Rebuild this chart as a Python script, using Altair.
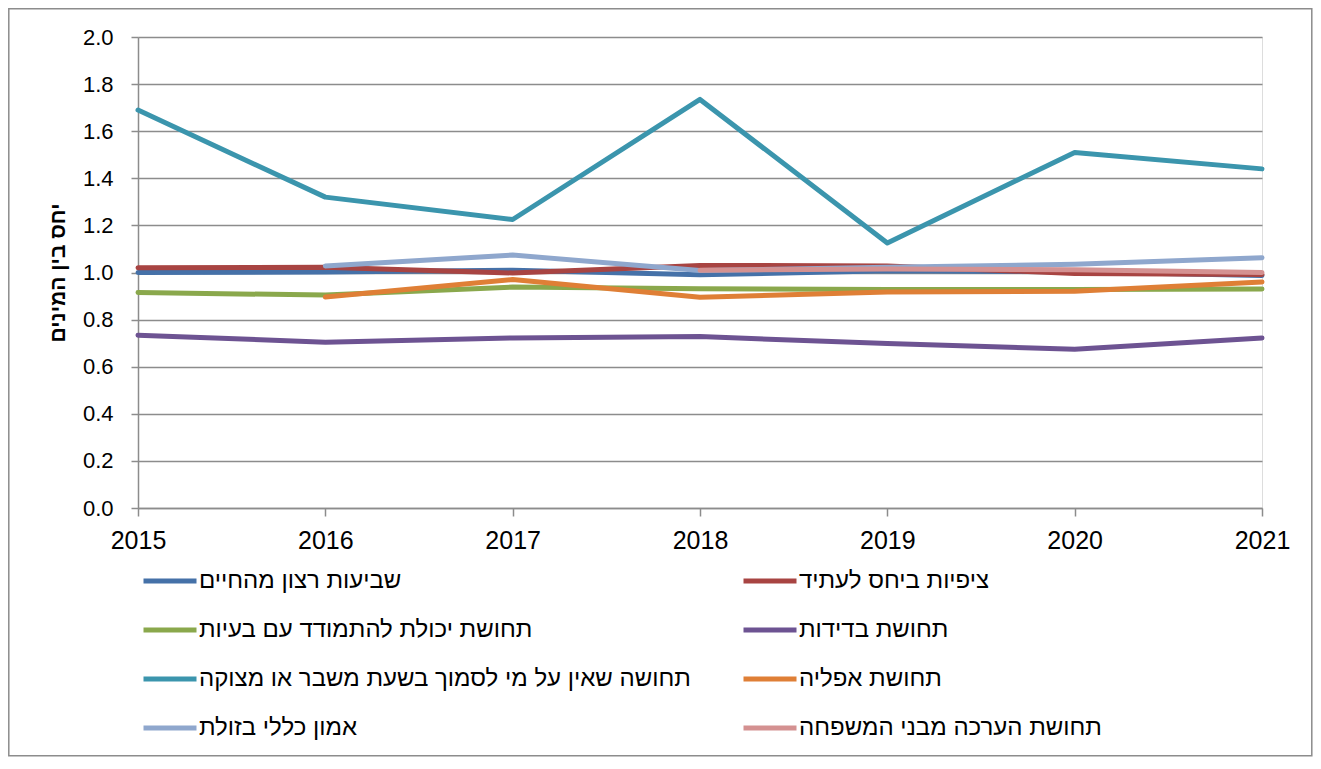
import altair as alt
import pandas as pd

years = [2015, 2016, 2017, 2018, 2019, 2020, 2021]

series_names = [
    "\u00a0שביעות רצון מהחיים",
    "ציפיות ביחס לעתיד",
    "תחושת יכולת להתמודד עם בעיות",
    "תחושת בדידות",
    "תחושה שאין על מי לסמוך בשעת משבר או מצוקה",
    "תחושת אפליה",
    "אמון כללי בזולת",
    "תחושת הערכה מבני המשפחה",
]
series_colors = ["#4571A8", "#A84442", "#8AA84C", "#6D5392",
                 "#3B95AD", "#DF7F36", "#8FA7CD", "#D49191"]

life_satisfaction = [1.000, 1.002, 1.010, 0.990, 1.007, 1.003, 0.987]
future_expectations = [1.020, 1.022, 0.998, 1.030, 1.028, 0.996, 0.992]
coping_ability = [0.915, 0.904, 0.938, 0.931, 0.928, 0.928, 0.930]
loneliness = [0.734, 0.704, 0.722, 0.728, 0.698, 0.674, 0.722]
no_one_to_rely_on = [1.690, 1.320, 1.225, 1.735, 1.125, 1.510, 1.440]
discrimination = [None, 0.896, 0.970, 0.895, 0.917, 0.920, 0.960]
general_trust = [None, 1.028, 1.074, 1.008, 1.022, 1.035, 1.063]
family_appreciation = [None, None, None, 1.010, 1.015, 1.012, 1.000]

all_series = [life_satisfaction, future_expectations, coping_ability, loneliness,
              no_one_to_rely_on, discrimination, general_trust, family_appreciation]

rows = []
for i, (name, vals) in enumerate(zip(series_names, all_series)):
    for y, v in zip(years, vals):
        if v is not None:
            rows.append({"year": y, "value": v, "series": name, "order": i})
df = pd.DataFrame(rows)

# legend fills column by column: left column first, then right column
legend_order = [0, 2, 4, 6, 1, 3, 5, 7]
legend_domain = [series_names[i] for i in legend_order]
legend_range = [series_colors[i] for i in legend_order]

y_ticks = [0.0, 0.2, 0.4, 0.6, 0.8, 1.0, 1.2, 1.4, 1.6, 1.8, 2.0]
FONT = "Liberation Sans"
GRID = "#8c8c8c"

lines = alt.Chart(df).mark_line(strokeWidth=5, strokeCap="round", strokeJoin="round").encode(
    x=alt.X("year:Q",
            scale=alt.Scale(domain=[2015, 2021], nice=False, zero=False),
            axis=alt.Axis(values=years, format="d", title=None, grid=False,
                          labelFontSize=25, labelFont=FONT, labelColor="black",
                          labelFlush=False, labelPadding=12,
                          tickSize=8, tickColor=GRID, tickWidth=1.5,
                          domainColor=GRID, domainWidth=1.5)),
    y=alt.Y("value:Q",
            scale=alt.Scale(domain=[0, 2], nice=False),
            axis=alt.Axis(values=y_ticks, format=".1f",
                          title="יחס בין המינים",
                          titleFont=FONT, titleFontSize=21, titleFontWeight="bold",
                          titleColor="black", titleAngle=270,
                          titleX=-80, titleY=235.5, titleAlign="center",
                          titleBaseline="middle",
                          labelFontSize=22, labelFont=FONT, labelColor="black",
                          labelPadding=18, tickSize=7, tickColor=GRID, tickWidth=1.5,
                          grid=True, gridColor=GRID, gridWidth=1.5,
                          domainColor=GRID, domainWidth=1.5)),
    color=alt.Color("series:N",
                    scale=alt.Scale(domain=legend_domain, range=legend_range),
                    legend=alt.Legend(title=None, orient="none", legendX=3, legendY=515,
                                      columns=2, columnPadding=42, rowPadding=8,
                                      symbolType="stroke", symbolStrokeWidth=5,
                                      symbolSize=2809, labelOffset=0,
                                      labelFontSize=24, labelFont=FONT,
                                      labelColor="black", labelLimit=800)),
    order=alt.Order("order:Q"),
    detail="series:N",
)

border = alt.Chart(pd.DataFrame({"a": [0]})).mark_rect(
    fill=None, stroke="#8c8c8c", strokeWidth=1.5, clip=False
).encode(
    x=alt.value(-129.2), x2=alt.value(1173.8),
    y=alt.value(-28.2), y2=alt.value(718.8),
)

chart = alt.layer(border, lines).properties(
    width=1124, height=471,
    autosize=alt.AutoSizeParams(type="none"),
    padding={"left": 130, "top": 29, "right": 51, "bottom": 249},
).configure_view(stroke=None).configure(background="white")

chart.save("out.html", embed_options={"renderer": "svg", "actions": False})
